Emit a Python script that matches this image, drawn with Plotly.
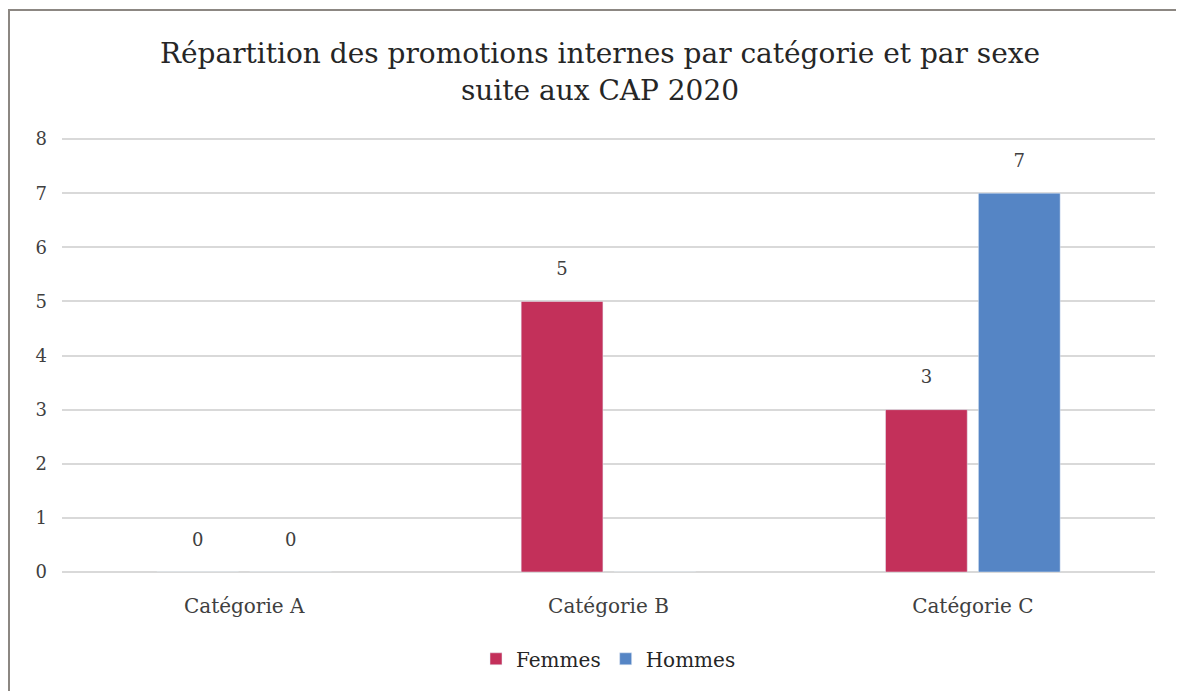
import plotly.graph_objects as go

# promotions internes CAP 2020
categories = ["Catégorie A", "Catégorie B", "Catégorie C"]
femmes = [0, 5, 3]
hommes = [0, 0, 7]
# hide the 0 label on the empty Hommes bar of Catégorie B, like the source
femmes_labels = ["0", "5", "3"]
hommes_labels = ["0", "", "7"]
yticks = [0, 1, 2, 3, 4, 5, 6, 7, 8]

font = "DejaVu Serif"
# small blank line under each label to lift it off the bar
pad = "<br><span style='font-size:2px'> </span>"

fig = go.Figure()
fig.add_trace(go.Bar(name="Femmes", x=categories, y=femmes,
                     text=[t + pad if t else t for t in femmes_labels],
                     textposition="outside", marker_color="#C3305A",
                     textfont=dict(size=18, color="#404040"), cliponaxis=False))
fig.add_trace(go.Bar(name="Hommes", x=categories, y=hommes,
                     text=[t + pad if t else t for t in hommes_labels],
                     textposition="outside", marker_color="#5585C5",
                     textfont=dict(size=18, color="#404040"), cliponaxis=False))

# page body adds 8px, so margins are shifted by that
fig.update_layout(
    width=1184, height=691,
    margin=dict(l=54, r=37, t=130, b=127),
    paper_bgcolor="white", plot_bgcolor="white",
    font=dict(family=font, size=17, color="#404040"),
    title=dict(text="Répartition des promotions internes par catégorie et par sexe<br>suite aux CAP 2020",
               x=0.5, xanchor="center", y=0.92, yanchor="middle",
               font=dict(family=font, size=28, color="#262626")),
    barmode="group", bargap=0.49, bargroupgap=0.12,
    showlegend=True,
    legend=dict(orientation="h", x=0.5, xanchor="center", y=-0.2, yanchor="middle",
                font=dict(size=20, color="#262626"), itemwidth=30),
    shapes=[dict(type="rect", xref="paper", yref="paper",
                 x0=(1 - 54) / 1093, x1=(1172 - 54) / 1093,
                 y0=-0.4, y1=(564 - 2) / 434,
                 line=dict(color="#8c8782", width=2), layer="below")],
)
fig.update_yaxes(range=[0, 8.02], tickvals=yticks, showgrid=True, gridcolor="#d9d9d9",
                 gridwidth=1.5, zeroline=True, zerolinecolor="#d9d9d9", zerolinewidth=1.5,
                 showline=False, ticks="", ticklabelstandoff=14,
                 tickfont=dict(size=18, color="#404040"))
fig.update_xaxes(showgrid=False, showline=False, ticks="", ticklabelstandoff=20,
                 tickfont=dict(size=20, color="#404040"))

fig.write_html("out.html")
